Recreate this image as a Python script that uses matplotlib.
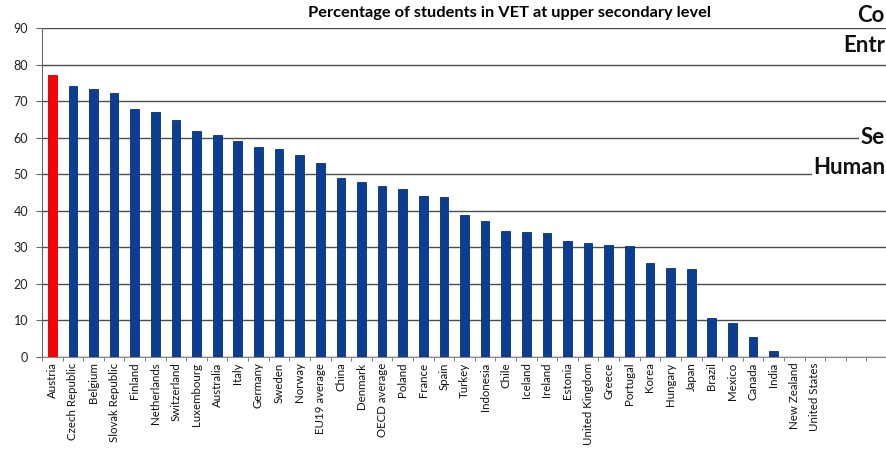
import matplotlib
matplotlib.use("Agg")
from matplotlib import pyplot as plt
import numpy as np

countries = ["Austria", "Czech Republic", "Belgium", "Slovak Republic", "Finland",
             "Netherlands", "Switzerland", "Luxembourg", "Australia", "Italy",
             "Germany", "Sweden", "Norway", "EU19 average", "China", "Denmark",
             "OECD average", "Poland", "France", "Spain", "Turkey", "Indonesia",
             "Chile", "Iceland", "Ireland", "Estonia", "United Kingdom", "Greece",
             "Portugal", "Korea", "Hungary", "Japan", "Brazil", "Mexico", "Canada",
             "India", "New Zealand", "United States", "", "", ""]
vet_share = [77.1, 74.1, 73.2, 72.3, 67.9, 67.1, 64.7, 61.8, 60.8, 59.1,
             57.5, 56.8, 55.3, 53.1, 49.0, 47.9, 46.9, 46.0, 44.0, 43.7,
             38.9, 37.3, 34.6, 34.1, 34.0, 31.7, 31.2, 30.6, 30.4, 25.6,
             24.4, 24.1, 10.6, 9.4, 5.4, 1.6, 0, 0, 0, 0, 0]
highlight = "Austria"

plt.rcParams["font.family"] = ["Lato", "DejaVu Sans"]

fig = plt.figure(figsize=(8.87, 4.49), dpi=100)
ax = fig.add_axes([42 / 887, 92 / 449, 845 / 887, 329 / 449])

x = np.arange(len(countries))
colors = ["#ff0000" if c == highlight else "#0b3e92" for c in countries]
edges = ["#c00000" if c == highlight else "#062f75" for c in countries]
ax.bar(x, vet_share, width=0.42, color=colors, edgecolor=edges, linewidth=0.6, zorder=3)

ax.set_ylim(0, 90)
ax.set_yticks(range(0, 91, 10))
ax.set_xlim(-0.5, 40.37)
ax.yaxis.grid(True, color="#4d4d4d", linewidth=1.0, zorder=0)

ax.set_xticks(x)
ax.set_xticklabels(countries, rotation=90, fontsize=8.3, color="#111111")
ax.set_xticks(np.arange(-0.5, len(countries), 1), minor=True)
ax.tick_params(axis="x", which="major", length=0, pad=4)
ax.tick_params(axis="x", which="minor", length=3, direction="out", color="#666666")
ax.tick_params(axis="y", length=4, direction="out", color="#666666",
               labelsize=9, labelcolor="#222222", pad=6)

for side in ["top", "right"]:
    ax.spines[side].set_visible(False)
ax.spines["left"].set_color("#666666")
ax.spines["bottom"].set_color("#888888")

fig.text(510 / 887, 1 - 13 / 449, "Percentage of students in VET at upper secondary level",
         ha="center", va="center", fontsize=11.8, fontweight="bold")

# side captions from the slide, pushed up against the right edge
box = dict(facecolor="white", edgecolor="none", pad=1)
side_texts = [("Co", 15), ("Entr", 45), ("Se", 138), ("Human", 167)]
for txt, py in side_texts:
    fig.text(885 / 887, 1 - py / 449, txt, ha="right", va="center", fontsize=16,
             fontweight="bold", color="#111111", bbox=box)

fig.savefig("out.png", dpi=100)
